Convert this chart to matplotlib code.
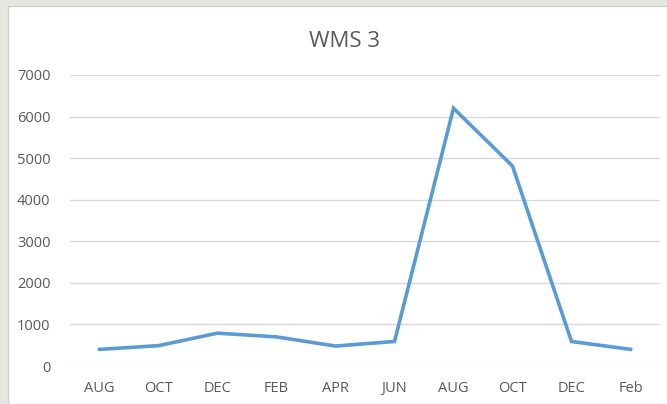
import matplotlib.pyplot as plt
from matplotlib.patches import Rectangle

months = ["AUG", "OCT", "DEC", "FEB", "APR", "JUN", "AUG", "OCT", "DEC", "Feb"]
values = [400, 490, 790, 700, 480, 590, 6200, 4810, 590, 400]
yticks = [0, 1000, 2000, 3000, 4000, 5000, 6000, 7000]

plt.rcParams['font.family'] = ['Open Sans', 'DejaVu Sans']

fig = plt.figure(figsize=(6.67, 4.04), dpi=100)
fig.patch.set_facecolor('#e4e7df')
# white chart area with thin border, behind the axes
fig.patches.append(Rectangle((8/667, 0), 1, 1 - 6/404, transform=fig.transFigure,
                             facecolor='white', edgecolor='#d0d0d0', lw=1, zorder=-5))

ax = fig.add_axes([70/667, 38/404, 590/667, 291/404])
ax.patch.set_alpha(0)
x = range(len(months))
ax.plot(x, values, color='#5b9bd5', lw=2.6, solid_joinstyle='miter', zorder=3)

ax.set_xlim(-0.5, len(months) - 0.5)
ax.set_ylim(0, 7000)
ax.set_yticks(yticks)
ax.set_yticklabels([str(v) for v in yticks])
ax.set_xticks(list(x))
ax.set_xticklabels(months)
ax.grid(axis='y', color='#d9d9d9', lw=1)
ax.set_axisbelow(True)
for s in ax.spines.values():
    s.set_visible(False)
ax.tick_params(length=0, colors='#595959', labelsize=10.5)
ax.tick_params(axis='y', pad=14)
ax.tick_params(axis='x', pad=11)

fig.text(0.517, 0.898, "WMS 3", ha='center', va='center', fontsize=16, color='#595959')

fig.savefig("out.png", dpi=100, facecolor=fig.get_facecolor())
